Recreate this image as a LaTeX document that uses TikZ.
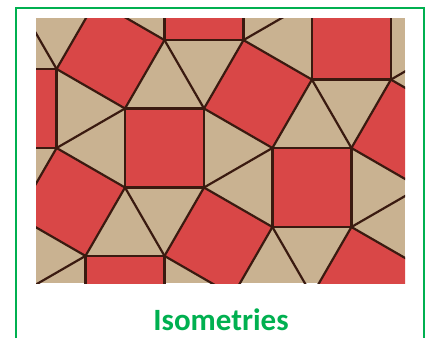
\documentclass[tikz,border=0pt]{standalone}
\usepackage{fontspec}
\setmainfont{Carlito}
\definecolor{frameGreen}{HTML}{00B050}
\definecolor{tileRed}{HTML}{D94747}
\definecolor{tileTan}{HTML}{C9B291}
\definecolor{tileLine}{HTML}{3A1A10}
\tikzset{
  sq/.style={fill=tileRed, draw=tileLine, line width=2.2pt, line join=round},
  tt/.style={draw=tileLine, line width=2.2pt, line cap=round},
  frameline/.style={draw=frameGreen, line width=2pt},
}
\begin{document}
\begin{tikzpicture}[x=1pt,y=-1pt]
\useasboundingbox (0,0) rectangle (430,338);
% frame
\coordinate (f1) at (16,338);
\coordinate (f2) at (16,8);
\coordinate (f3) at (424,8);
\coordinate (f4) at (424,338);
\draw[frameline] (f1) -- (f2) -- (f3) -- (f4);
% tiling
\begin{scope}
\clip (36,18) rectangle (405,283);
\fill[tileTan] (36,18) rectangle (405,283);
\foreach \i in {-3,...,3}{
  \foreach \j in {-3,...,3}{
    \begin{scope}[shift={(125+\i*147.416+\j*39.5, 108.5+\i*39.5-\j*147.416)}]
      \coordinate (o) at (0,0);
      \coordinate (b) at (79,0);
      \coordinate (c) at (79,79);
      \coordinate (d) at (0,79);
      \coordinate (t1) at (-68.416,-39.5);
      \coordinate (t2) at (-28.916,-107.916);
      \coordinate (t3) at (39.5,-68.416);
      \coordinate (l1) at (-68.416,39.5);
      \draw[sq] (o) -- (b) -- (c) -- (d) -- cycle;
      \draw[sq] (o) -- (t1) -- (t2) -- (t3) -- cycle;
      \draw[tt] (t3) -- (b);
      \draw[tt] (o) -- (l1);
    \end{scope}
  }
}
\end{scope}
\node[font=\fontsize{31}{31}\selectfont\bfseries, text=frameGreen, anchor=base] (title) at (221,330) {Isometries};
\end{tikzpicture}
\end{document}
